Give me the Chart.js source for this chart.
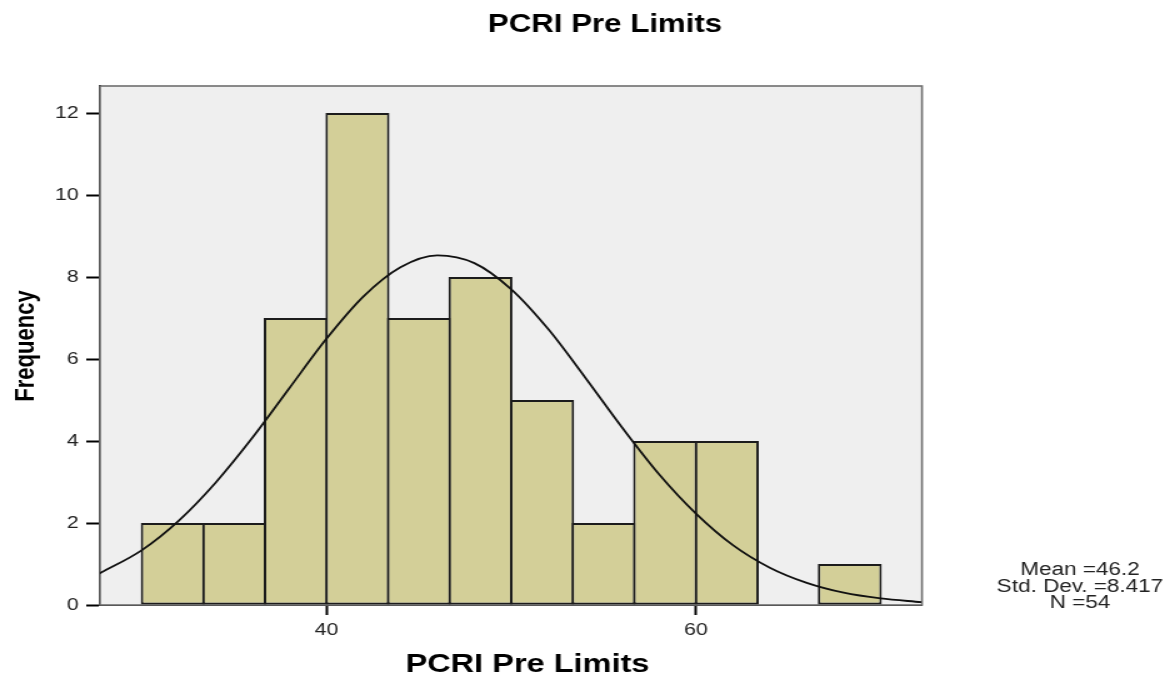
<!DOCTYPE html>
<html>
<head>
<meta charset="utf-8">
<script src="https://cdn.jsdelivr.net/npm/chart.js@4.4.1/dist/chart.umd.min.js"></script>
<style>
  html, body { margin: 0; padding: 0; background: #fff; overflow: hidden; }
  #wrap { width: 940px; height: 677px; transform: scaleX(1.25); transform-origin: 0 0; }
  canvas { display: block; }
</style>
</head>
<body>
<div id="wrap"><canvas id="c" width="940" height="677"></canvas></div>
<script>
// ---- data ----
const chartTitle = "PCRI Pre Limits";
const xAxisTitle = "PCRI Pre Limits";
const yAxisTitle = "Frequency";
const binCenters = [31.67, 35.0, 38.33, 41.67, 45.0, 48.33, 51.67, 55.0, 58.33, 61.67, 65.0, 68.33];
const binCounts  = [2, 2, 7, 12, 7, 8, 5, 2, 4, 4, 0, 1];
const curveX = [27.7, 30, 32, 34, 36, 38, 40, 42, 44, 46, 48, 50, 52, 54, 56, 58, 60, 62, 64, 66, 68, 70, 72.2];
const curveY = [0.77, 1.34, 2.06, 2.99, 4.09, 5.30, 6.50, 7.53, 8.24, 8.53, 8.34, 7.70, 6.73, 5.55, 4.33, 3.19, 2.23, 1.46, 0.91, 0.54, 0.30, 0.16, 0.07];
const xTickValues = [40, 60];
const yTickValues = [0, 2, 4, 6, 8, 10, 12];
const statsLines = ["Mean =46.2", "Std. Dev. =8.417", "N =54"];

const xMin = 27.73, xMax = 72.24, yMax = 12.66;

const decor = {
  id: 'decor',
  beforeDatasetsDraw(chart) {
    const {ctx, chartArea: a} = chart;
    ctx.save();
    ctx.fillStyle = '#efefef';
    ctx.fillRect(a.left, a.top, a.right - a.left, a.bottom - a.top);
    ctx.strokeStyle = '#6e6e6e';
    ctx.lineWidth = 1.6;
    ctx.strokeRect(a.left, a.top, a.right - a.left, a.bottom - a.top);
    ctx.restore();
  },
  afterDraw(chart) {
    const {ctx} = chart;
    ctx.save();
    ctx.fillStyle = '#000';
    ctx.textAlign = 'center';
    ctx.textBaseline = 'alphabetic';
    ctx.font = 'bold 25px "Liberation Sans", Arial, sans-serif';
    ctx.fillText(chartTitle, 484, 32);
    ctx.font = 'bold 26px "Liberation Sans", Arial, sans-serif';
    ctx.fillText(xAxisTitle, 422, 672);
    ctx.save();
    ctx.translate(26.5, 346);
    ctx.rotate(-Math.PI / 2);
    ctx.font = 'bold 22px "Liberation Sans", Arial, sans-serif';
    ctx.fillText(yAxisTitle, 0, 0);
    ctx.restore();
    ctx.fillStyle = '#222';
    ctx.font = '18px "Liberation Sans", Arial, sans-serif';
    const bases = [575, 591.5, 608];
    statsLines.forEach((t, i) => ctx.fillText(t, 864, bases[i]));
    ctx.restore();
  }
};

new Chart(document.getElementById('c'), {
  type: 'bar',
  data: {
    datasets: [
      {
        type: 'line',
        data: curveX.map((x, i) => ({x, y: curveY[i]})),
        borderColor: '#111',
        borderWidth: 1.8,
        pointRadius: 0,
        fill: false,
        cubicInterpolationMode: 'monotone',
        order: 0
      },
      {
        type: 'bar',
        data: binCenters.map((x, i) => ({x, y: binCounts[i]})),
        backgroundColor: '#d3cf98',
        borderColor: '#1c1c1c',
        borderWidth: 2,
        borderSkipped: false,
        barPercentage: 1.0406,
        categoryPercentage: 1,
        order: 1
      }
    ]
  },
  options: {
    responsive: false,
    animation: false,
    layout: { padding: { left: 0, top: 86, right: 202.4, bottom: 0 } },
    plugins: { legend: { display: false }, tooltip: { enabled: false }, title: { display: false } },
    scales: {
      x: {
        type: 'linear',
        min: xMin, max: xMax,
        offset: false,
        afterBuildTicks: s => { s.ticks = xTickValues.map(v => ({value: v})); },
        afterFit: s => { s.height = 72; },
        grid: { offset: false, drawOnChartArea: false, drawTicks: true, tickLength: 10, color: '#000', tickWidth: 2 },
        border: { display: true, color: '#000', width: 2 },
        ticks: { color: '#222', padding: 5, maxRotation: 0, font: { family: '"Liberation Sans", Arial, sans-serif', size: 17 } }
      },
      y: {
        type: 'linear',
        min: 0, max: yMax,
        afterBuildTicks: s => { s.ticks = yTickValues.map(v => ({value: v})); },
        afterFit: s => { s.width = 80; },
        grid: { drawOnChartArea: false, drawTicks: true, tickLength: 11, color: '#000', tickWidth: 2 },
        border: { display: true, color: '#000', width: 2 },
        ticks: { color: '#222', padding: 6, font: { family: '"Liberation Sans", Arial, sans-serif', size: 17 } }
      }
    }
  },
  plugins: [decor]
});
</script>
</body>
</html>
